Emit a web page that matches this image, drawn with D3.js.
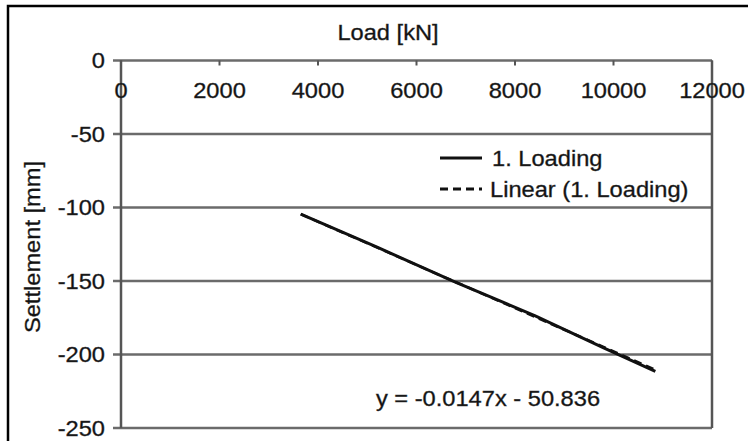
<!DOCTYPE html>
<html>
<head>
<meta charset="utf-8">
<script src="https://cdn.jsdelivr.net/npm/d3@7"></script>
<style>
  body { margin: 0; background: #fff; }
  svg text { font-family: "Liberation Sans", Arial, sans-serif; fill: #111; stroke: #333; stroke-width: 0.35px; }
</style>
</head>
<body>
<div id="chart"></div>
<script>
// data
var loadKN = [3650, 5200, 6800, 8400, 9800, 10850];
var settlementMM = [-104.5, -127, -151, -173.5, -195.5, -211.5];
var trendSlope = -0.0147, trendIntercept = -50.836;
var xTicks = [0, 2000, 4000, 6000, 8000, 10000, 12000];
var yTicks = [0, -50, -100, -150, -200, -250];
var seriesNames = ["1. Loading", "Linear (1. Loading)"];

var W = 748, H = 441;
var svg = d3.select("#chart").append("svg").attr("width", W).attr("height", H);

var x = d3.scaleLinear().domain([0, 12000]).range([121, 712]);
var y = d3.scaleLinear().domain([0, -250]).range([60.5, 428]);

var gridColor = "#6b6b6b";
var fs = 21.5, stretch = 1.1;

// text with a slightly wide font look
function label(px, py, str, anchor, rot){
  return svg.append("text")
    .attr("transform", "translate(" + px + "," + py + ")" + (rot ? " rotate(" + rot + ")" : "") + " scale(" + stretch + ",1)")
    .attr("text-anchor", anchor || "start")
    .style("font-size", fs + "px")
    .text(str);
}

// outer frame (cut off at right and bottom)
svg.append("path")
  .attr("d", "M8," + H + " L8,6 L" + W + ",6")
  .style("fill", "none").style("stroke", "#000").style("stroke-width", "2.5px");

// horizontal gridlines incl. top axis and bottom
svg.selectAll("line.grid").data(yTicks).enter().append("line")
  .attr("class", "grid")
  .attr("x1", x(0) - 8).attr("x2", x(12000))
  .attr("y1", function(d){ return y(d); }).attr("y2", function(d){ return y(d); })
  .style("stroke", gridColor).style("stroke-width", "2.5px");

// left axis and right border
svg.selectAll("line.vert").data([0, 12000]).enter().append("line")
  .attr("class", "vert")
  .attr("x1", function(d){ return x(d); }).attr("x2", function(d){ return x(d); })
  .attr("y1", y(0)).attr("y2", y(-250))
  .style("stroke", "#555").style("stroke-width", "2.5px");

// x ticks hanging from the zero line
svg.selectAll("line.xt").data(xTicks).enter().append("line")
  .attr("class", "xt")
  .attr("x1", function(d){ return x(d); }).attr("x2", function(d){ return x(d); })
  .attr("y1", y(0)).attr("y2", y(0) + 5)
  .style("stroke", "#555").style("stroke-width", "2px");

// tick labels (plain hyphen minus like the original)
xTicks.forEach(function(t){ label(x(t), 98, String(t), "middle"); });
yTicks.forEach(function(t){ label(105, y(t) + 7.5, String(t), "end"); });

// axis titles
label(388, 40, "Load [kN]", "middle");
label(40, 247, "Settlement [mm]", "middle", -90);

// data series
var pts = loadKN.map(function(v, i){ return [v, settlementMM[i]]; });
var line = d3.line().x(function(d){ return x(d[0]); }).y(function(d){ return y(d[1]); });

svg.append("path")
  .attr("d", line(pts))
  .style("fill", "none").style("stroke", "#111").style("stroke-width", "3px")
  .style("stroke-linejoin", "round");

// linear trendline over the data range
var xr = d3.extent(loadKN);
var trendPts = xr.map(function(v){ return [v, trendSlope * v + trendIntercept]; });
svg.append("path")
  .attr("d", line(trendPts))
  .style("fill", "none").style("stroke", "#111").style("stroke-width", "2.5px")
  .style("stroke-dasharray", "8,5");

// legend
var legY = [158, 189];
svg.append("line").attr("x1", 440).attr("x2", 482).attr("y1", legY[0]).attr("y2", legY[0])
  .style("stroke", "#111").style("stroke-width", "3px");
svg.append("line").attr("x1", 440).attr("x2", 482).attr("y1", legY[1]).attr("y2", legY[1])
  .style("stroke", "#111").style("stroke-width", "3px").style("stroke-dasharray", "8,5");
label(492, legY[0] + 8, seriesNames[0]);
label(490, legY[1] + 8, seriesNames[1]);

// trendline equation
label(488, 406, "y = " + trendSlope + "x - " + Math.abs(trendIntercept), "middle");
</script>
</body>
</html>
